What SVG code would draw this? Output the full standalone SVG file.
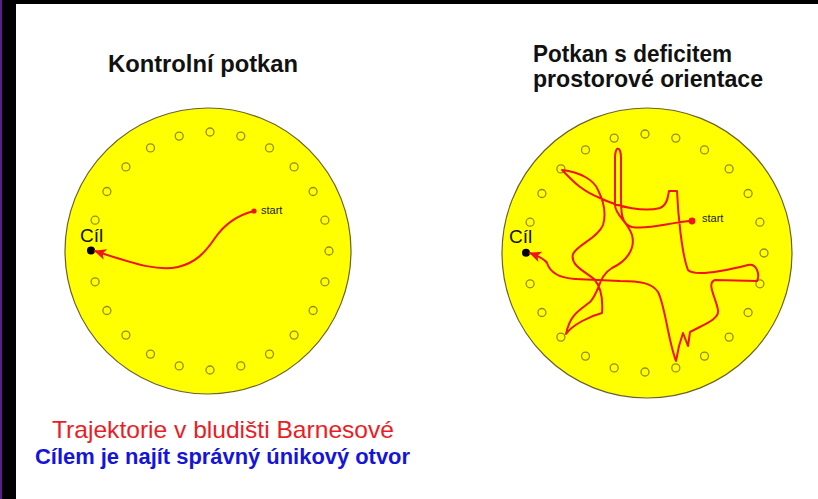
<svg xmlns="http://www.w3.org/2000/svg" width="818" height="499" viewBox="0 0 818 499">
  <style>
    .title { font-family: "Liberation Sans", Arial, sans-serif; font-weight: bold; font-size: 24px; fill: #111; }
    .arena { fill: #ffff00; stroke: #6b6030; stroke-width: 1.2; }
    .hole { fill: none; stroke: #948c1c; stroke-width: 1.3; }
    .goal { fill: #000; }
    .goal-label { font-family: "Liberation Sans", Arial, sans-serif; font-size: 19px; fill: #111; }
    .start-label { font-family: "Liberation Sans", Arial, sans-serif; font-size: 11px; fill: #222; }
    .start { fill: #f01414; }
    .track { fill: none; stroke: #f01414; stroke-width: 2; stroke-linejoin: round; stroke-linecap: round; marker-end: url(#arrow); }
  </style>
  <defs>
    <marker id="arrow" markerUnits="userSpaceOnUse" markerWidth="12" markerHeight="12" viewBox="0 0 12 12" refX="11" refY="6" orient="auto">
      <path d="M0,0.5 L12,6 L0,11.5 L3,6 Z" fill="#f01414"/>
    </marker>
  </defs>

  <!-- frame -->
  <rect x="0" y="0" width="818" height="499" fill="#ffffff"/>
  <rect x="0" y="0" width="818" height="4" fill="#000"/>
  <rect x="0" y="0" width="16" height="499" fill="#000"/>
  <rect x="0" y="0" width="2" height="499" fill="#5b1f8c"/>

  <!-- headings -->
  <text class="title" x="108" y="72" textLength="190" lengthAdjust="spacingAndGlyphs">Kontrolní potkan</text>
  <text class="title" x="533" y="62" textLength="199" lengthAdjust="spacingAndGlyphs">Potkan s deficitem</text>
  <text class="title" x="533" y="87" textLength="230" lengthAdjust="spacingAndGlyphs">prostorové orientace</text>

  <!-- control rat maze -->
  <g id="maze-control">
    <circle class="arena" cx="208" cy="251" r="143"/>
    <g>
      <circle class="hole" cx="329" cy="251" r="4"/>
      <circle class="hole" cx="324.9" cy="281.8" r="4"/>
      <circle class="hole" cx="313.1" cy="310.5" r="4"/>
      <circle class="hole" cx="294.1" cy="335.1" r="4"/>
      <circle class="hole" cx="269.5" cy="354.1" r="4"/>
      <circle class="hole" cx="240.8" cy="365.9" r="4"/>
      <circle class="hole" cx="210" cy="370" r="4"/>
      <circle class="hole" cx="179.2" cy="365.9" r="4"/>
      <circle class="hole" cx="150.5" cy="354.1" r="4"/>
      <circle class="hole" cx="125.9" cy="335.1" r="4"/>
      <circle class="hole" cx="106.9" cy="310.5" r="4"/>
      <circle class="hole" cx="95.1" cy="281.8" r="4"/>
      <circle class="hole" cx="95.1" cy="220.2" r="4"/>
      <circle class="hole" cx="106.9" cy="191.5" r="4"/>
      <circle class="hole" cx="125.9" cy="166.9" r="4"/>
      <circle class="hole" cx="150.5" cy="147.9" r="4"/>
      <circle class="hole" cx="179.2" cy="136.1" r="4"/>
      <circle class="hole" cx="210" cy="132" r="4"/>
      <circle class="hole" cx="240.8" cy="136.1" r="4"/>
      <circle class="hole" cx="269.5" cy="147.9" r="4"/>
      <circle class="hole" cx="294.1" cy="166.9" r="4"/>
      <circle class="hole" cx="313.1" cy="191.5" r="4"/>
      <circle class="hole" cx="324.9" cy="220.2" r="4"/>
    </g>
    <circle class="goal" cx="91" cy="250.5" r="4"/>
    <text class="goal-label" x="80" y="242">Cíl</text>
    <circle class="start" cx="254" cy="211" r="2.6"/>
    <text class="start-label" x="261" y="214">start</text>
  </g>

  <!-- impaired rat maze -->
  <g id="maze-deficit">
    <circle class="arena" cx="647" cy="253" r="145"/>
    <g>
      <circle class="hole" cx="764" cy="253" r="4"/>
      <circle class="hole" cx="759.9" cy="283.8" r="4"/>
      <circle class="hole" cx="748.1" cy="312.5" r="4"/>
      <circle class="hole" cx="729.1" cy="337.1" r="4"/>
      <circle class="hole" cx="704.5" cy="356.1" r="4"/>
      <circle class="hole" cx="675.8" cy="367.9" r="4"/>
      <circle class="hole" cx="645" cy="372" r="4"/>
      <circle class="hole" cx="614.2" cy="367.9" r="4"/>
      <circle class="hole" cx="585.5" cy="356.1" r="4"/>
      <circle class="hole" cx="560.9" cy="337.1" r="4"/>
      <circle class="hole" cx="541.9" cy="312.5" r="4"/>
      <circle class="hole" cx="530.1" cy="283.8" r="4"/>
      <circle class="hole" cx="530.1" cy="222.2" r="4"/>
      <circle class="hole" cx="541.9" cy="193.5" r="4"/>
      <circle class="hole" cx="560.9" cy="168.9" r="4"/>
      <circle class="hole" cx="585.5" cy="149.9" r="4"/>
      <circle class="hole" cx="614.2" cy="138.1" r="4"/>
      <circle class="hole" cx="645" cy="134" r="4"/>
      <circle class="hole" cx="675.8" cy="138.1" r="4"/>
      <circle class="hole" cx="704.5" cy="149.9" r="4"/>
      <circle class="hole" cx="729.1" cy="168.9" r="4"/>
      <circle class="hole" cx="748.1" cy="193.5" r="4"/>
      <circle class="hole" cx="759.9" cy="222.2" r="4"/>
    </g>
    <circle class="goal" cx="526" cy="252.7" r="4"/>
    <text class="goal-label" x="509" y="243" font-size="18">Cíl</text>
    <circle class="start" cx="692" cy="221" r="3.4"/>
    <text class="start-label" x="702" y="222">start</text>
  </g>

  <!-- trajectories -->
  <g id="trajectories">
    <path class="track" d="M254,211 C238,215 224,225 215,238 C205,253 195,263 178,267 C160,271 140,266 95,251"/>
    <path class="track" d="M692,221 C670,222 650,230 632,227 C620,224 621,210 621,190 L621,158 C621,146 615,145 615,158 L615,205
      C615,215 628,222 632,235 C636,250 625,262 612,268 C598,276 600,292 590,302 C580,310 570,314 566,334
      C572,325 590,316 602,313 C603,300 602,288 594,279 C584,271 570,265 573,254 C577,245 598,238 603,225 C607,212 602,198 598,190
      C594,180 580,172 562,170 C572,180 580,190 600,198 C620,208 645,212 660,208 C668,205 668,195 669,191 L677,191
      C678,215 682,255 688,270 C694,276 720,272 748,265 C757,263 760,275 757,281
      L715,280 C706,283 716,298 718,310 C720,320 700,326 690,332 L688,346 L683,333 L679,346 L676,361
      C668,340 665,305 658,292 C652,283 640,281 620,281 L575,279 C558,278 550,272 547,263 C545,259 538,256 530,253"/>
  </g>

  <!-- captions -->
  <text x="52" y="438" font-family="Liberation Sans, Arial, sans-serif" font-size="24" fill="#ec1c24" textLength="342" lengthAdjust="spacingAndGlyphs">Trajektorie v bludišti Barnesové</text>
  <text x="35" y="464" font-family="Liberation Sans, Arial, sans-serif" font-size="22" font-weight="bold" fill="#1414dc" textLength="375" lengthAdjust="spacingAndGlyphs">Cílem je najít správný únikový otvor</text>
</svg>
